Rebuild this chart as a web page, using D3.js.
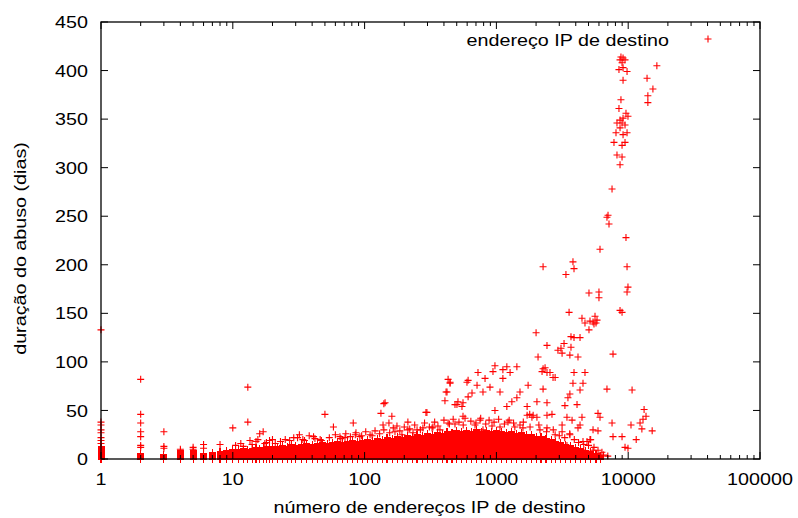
<!DOCTYPE html>
<html>
<head>
<meta charset="utf-8">
<script src="https://cdn.jsdelivr.net/npm/d3@7"></script>
<style>
body { margin: 0; background: #fff; }
text { font-family: "Liberation Sans", Arial, sans-serif; fill: #000; font-size: 17px; }
</style>
</head>
<body>
<div id="chart"></div>
<script>
// dense columns: [x, highest day] -> one point for every whole day from 0 up to that value
var bandCols = [
    [1,13],[2,6],[3,5],[4,9],[5,9],[6,6],[7,7],[8,8],[9,9],[10,10],
    [11,10],[12,11],[13,10],[14,11],[15,12],[16,11],[17,12],[18,13],[19,12],[20,13],
    [22,13],[24,14],[26,13],[28,15],[30,14],
    [33,15],[36,16],[40,15],[44,16],[48,17],[52,16],[57,17],[62,18],[68,17],[74,18],
    [81,19],[88,18],[96,19],[105,20],[115,19],[125,21],[136,20],[148,22],[162,21],[177,23],
    [193,22],[210,24],[230,23],[250,25],[273,24],[298,26],[325,25],[355,27],[387,26],[422,28],
    [460,27],[500,29],[545,28],[595,29],[650,28],[710,30],[775,28],[845,29],[920,28],[1000,29],
    [1090,28],[1190,27],[1300,28],[1420,26],[1550,27],[1690,25],[1840,25],[2000,23],[2180,23],[2380,21],
    [2600,20],[2830,18],[3080,17],[3360,15],[3660,14],[4000,12],[4350,11],[4750,9],[5200,8],[5700,6],[6200,4]
];

// loose points on the first integer columns
var smallPts = [
    [1,133],[1,38],[1,35],[1,30],[1,27],[1,22],[1,19],[1,16],
    [2,82],[2,46],[2,37],[2,28],[2,23],[2,14],[2,12],
    [3,28],[3,13],[3,11],
    [4,10],[5,12],[5,10],[6,15],[6,11]
];

// low scatter, 8 .. 1000 addresses
var lowPts = [
    [10,32],[13,74],[13,38],[12,13],[16,26],[17,28],[21,16],[17.5,16],[31,22],[32,25],
    [41,23],[50,46],[58,33],[65,23],[82,37],[85,25],[140,57],[133,47],[153,37],[292,48],
    [415,69],[445,79],[598,79],[502,56],[548,54],[610,64],[558,44],[430,37],[250,30],[277,32],
    [330,33],[373,30],[192,25],[233,27],
    [19,19],[25,20],[35,19],[46,20],[71,22],[92,23],[114,24],[170,28],[213,30],[325,32],
    [485,36],[688,35],[1510,35],[2140,30],[2790,25],[15.5,20],[13.5,19],[8,15]
];

// points just above the dense band
var fringePts = [
    [10.5,14],[11.5,16],[14,15],[15,18],[18,17],[20,20],[23,18],[27,19],[29,22],[34,20],
    [38,24],[42,21],[47,19],[54,22],[60,25],[66,21],[72,26],[78,23],[86,27],[95,24],
    [102,28],[110,25],[120,29],[130,26],[140,30],[155,27],[165,32],[185,29],[200,33],[220,31],
    [240,35],[265,30],[285,37],[310,33],[340,38],[360,34],[400,40],[440,36],[470,41],[520,38],
    [560,35],[640,39],[700,37],[760,42],[830,36],[880,40],[960,38],[1040,41],[1150,36],[1250,40],
    [1350,37],[1600,38],[1800,33],[2100,35],[2400,28],[2700,30],[3000,24],[3300,22],[3600,26],[3900,20],
    [4200,17],[4600,15],[5000,14],[5500,12],[6500,4],[7000,3]
];

// middle scatter
var midPts = [
    [7540,278],[7030,251],[6900,249],[7150,242],[9620,228],[6110,216],[3810,203],[2260,198],[3880,196],[3370,190],
    [9800,198],[9960,177],[9800,172],[5040,171],[6000,172],[6000,166],[8670,153],[8980,151],[3560,151],[4460,145],
    [4700,140],[5130,142],[5410,141],[5800,143],[5600,147],[5500,139],[5700,140],[5040,133],[2000,130],[3680,126],
    [4310,125],[3880,125],[3260,119],[2420,117],[3090,114],[3680,115],[2930,112],[3150,109],[3610,107],[4160,105],
    [7670,108],[2070,105],[2340,94],[2220,90],[2550,89],[2790,84],[3880,89],[4700,89],[975,96],[1200,95],
    [1430,95],[1120,92],[942,90],[725,89],[1270,89],[430,82],[610,81],[820,83],[1120,83],[2690,84],
    [2260,93],[2420,89],[3810,78],[4540,78],[6900,72],[10700,71],[445,78],[713,76],[894,74],[1065,69],
    [1740,76],[2260,72],[1510,69],[422,69],[653,68],[791,69],[3610,67],[4310,71],[407,60],[511,59],
    [485,56],[558,58],[1310,59],[1430,63],[2030,59],[2420,58],[3490,63],[3310,55],[4090,56],[1710,54],
    [1200,54],[143,58],[297,48],[975,50],[1710,45],[1900,45],[2030,43],[1860,43],[1790,46],[2420,45],
    [2640,46],[3430,43],[3750,40],[4460,43],[5900,47],[6110,43],[7540,37],[10500,35],[13200,51],[13650,44],
    [12950,41],[12300,37],[12700,31],[15200,29],[7670,23],[8980,23],[11500,20],[9460,12],[9960,11],[5130,20],
    [5410,30],[5900,29],[4310,35],[3150,35],[578,42],[751,40],[926,34],[1065,33],[791,30],[1225,38],
    [1380,33],[1590,32],[2420,32],[3150,28],[161,44],[213,38],[176,34],[138,35],[4160,32],[3610,25],
    [4870,18],[5190,20],[4540,18],[5900,9],[6320,7],[5410,9],[4700,7],[3430,14],[3200,6],[3750,6]
];

// long abuse cluster near 10000 addresses
var peakPts = [
    [8810,414],[9140,413],[8670,411],[9460,411],[8980,408],[9140,403],[8510,401],[9800,399],[9140,390],[8810,370],
    [8510,361],[9620,356],[9960,353],[9140,351],[8670,349],[8220,346],[8980,346],[9460,344],[8670,341],[8080,336],
    [9140,334],[9800,336],[7800,326],[9460,326],[8980,323],[8220,313],[8980,311],[8670,303],
    [16500,405],[13900,392],[15400,381],[14100,374],[14100,367]
];

var xTicks = [1, 10, 100, 1000, 10000, 100000];
var yTicks = [0, 50, 100, 150, 200, 250, 300, 350, 400, 450];
var seriesName = 'endereço IP de destino';

var margin = {top: 22, bottom: 59, left: 101, right: 38};
var W = 798, H = 518;
var width = W - margin.left - margin.right,
    height = H - margin.top - margin.bottom;
var sx = 1.16; // the original lettering is a little wider than Liberation Sans

var svg = d3.select('#chart').append('svg')
    .attr('width', W)
    .attr('height', H);

var g = svg.append('g')
    .attr('transform', 'translate(' + margin.left + ',' + margin.top + ')');

var x = d3.scaleLog().domain([1, 100000]).range([0, width]);
var y = d3.scaleLinear().domain([0, 450]).range([height, 0]);

var band = [];
bandCols.forEach(function (c) {
    for (var d = 0; d <= c[1]; d++) band.push([c[0], d]);
});
var loose = [].concat(smallPts, lowPts, fringePts, midPts, peakPts);

var cross = 'M-3.5,0H3.5M0,-3.5V3.5';

function drawPoints(pts, crisp) {
    g.append('g').selectAll('path')
        .data(pts)
        .enter()
        .append('path')
        .attr('d', cross)
        .attr('transform', function (d) {
            return 'translate(' + x(d[0]) + ',' + y(d[1]) + ')';
        })
        .attr('fill', 'none')
        .attr('stroke', '#ff0000')
        .attr('stroke-width', 1.1)
        .attr('shape-rendering', crisp ? 'crispEdges' : 'auto');
}
drawPoints(band, true);
drawPoints(loose, false);

// frame
g.append('rect')
    .attr('width', width)
    .attr('height', height)
    .attr('fill', 'none')
    .attr('stroke', '#000')
    .attr('stroke-width', 1.3);

// x ticks, bottom and mirrored on top
var minor = x.ticks().filter(function (v) { return xTicks.indexOf(v) < 0; });
[[height, -1], [0, 1]].forEach(function (s) {
    g.selectAll(null).data(xTicks).enter().append('line')
        .attr('x1', function (d) { return x(d); })
        .attr('x2', function (d) { return x(d); })
        .attr('y1', s[0]).attr('y2', s[0] + s[1] * 7)
        .attr('stroke', '#000');
    g.selectAll(null).data(minor).enter().append('line')
        .attr('x1', function (d) { return x(d); })
        .attr('x2', function (d) { return x(d); })
        .attr('y1', s[0]).attr('y2', s[0] + s[1] * 4)
        .attr('stroke', '#000');
});
g.selectAll(null).data(xTicks).enter().append('text')
    .attr('transform', function (d) {
        return 'translate(' + x(d) + ',' + (height + 26) + ') scale(' + sx + ',1)';
    })
    .attr('text-anchor', 'middle')
    .text(function (d) { return d; });

// y ticks, left and mirrored on right
[[0, 1], [width, -1]].forEach(function (s) {
    g.selectAll(null).data(yTicks).enter().append('line')
        .attr('x1', s[0]).attr('x2', s[0] + s[1] * 7)
        .attr('y1', function (d) { return y(d); })
        .attr('y2', function (d) { return y(d); })
        .attr('stroke', '#000');
});
g.selectAll(null).data(yTicks).enter().append('text')
    .attr('transform', function (d) {
        return 'translate(-13,' + y(d) + ') scale(' + sx + ',1)';
    })
    .attr('dy', '0.36em')
    .attr('text-anchor', 'end')
    .text(function (d) { return d; });

// axis labels
g.append('text')
    .attr('transform', 'translate(' + (width / 2 - 1) + ',' + (height + 54) + ') scale(' + sx + ',1)')
    .attr('text-anchor', 'middle')
    .text('número de endereços IP de destino');

g.append('text')
    .attr('transform', 'translate(-75,' + (height / 2 + 8) + ') rotate(-90) scale(' + sx + ',1)')
    .attr('text-anchor', 'middle')
    .text('duração do abuso (dias)');

// legend
g.append('text')
    .attr('transform', 'translate(568,24) scale(' + sx + ',1)')
    .attr('text-anchor', 'end')
    .text(seriesName);
g.append('path')
    .attr('d', cross)
    .attr('transform', 'translate(607,17)')
    .attr('fill', 'none')
    .attr('stroke', '#ff0000')
    .attr('stroke-width', 1.1);
</script>
</body>
</html>
